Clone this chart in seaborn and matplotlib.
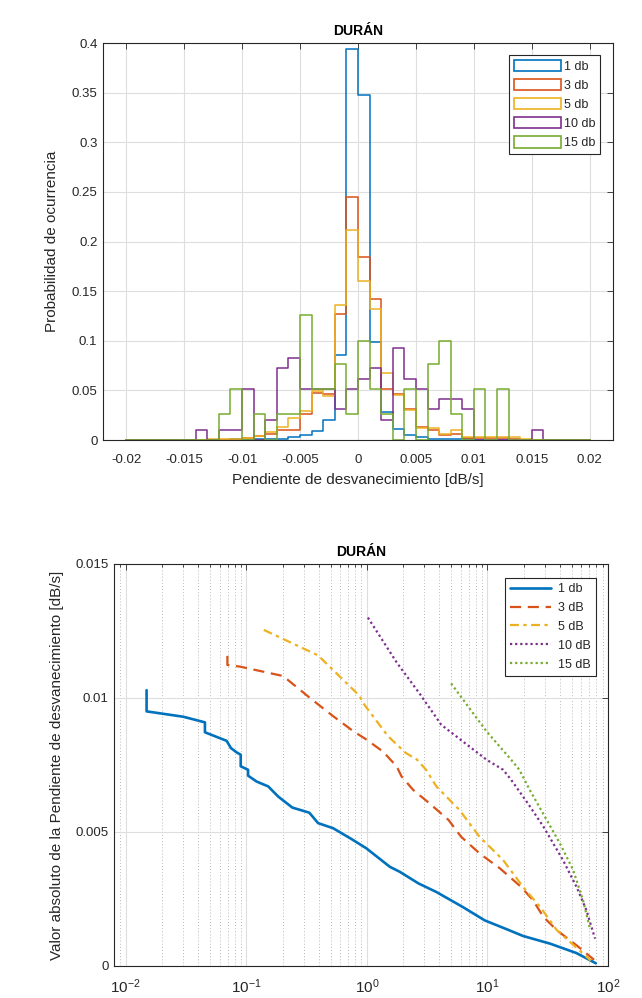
import numpy as np
import pandas as pd
import matplotlib
matplotlib.use('Agg')
import matplotlib.pyplot as plt
import seaborn as sns
from matplotlib.patches import Patch

# ---------------- data: histogram of fading slopes (probability per bin) ----------------
bin_edges = np.linspace(-0.02, 0.02, 41)
bin_centers = (bin_edges[:-1] + bin_edges[1:]) / 2

hist_labels = ['1 db', '3 db', '5 db', '10 db', '15 db']

p_1db = [0, 0, 0, 0, 0, 0, 0, 0, 0, 0.001,
         0, 0.001, 0.001, 0.001, 0.003, 0.005, 0.009, 0.020, 0.086, 0.394,
         0.348, 0.099, 0.028, 0.011, 0.005, 0.003, 0.001, 0.001, 0.001, 0.001,
         0, 0, 0, 0, 0, 0, 0, 0, 0, 0]
p_3db = [0, 0, 0, 0, 0, 0, 0, 0, 0, 0,
         0.002, 0.004, 0.006, 0.010, 0.010, 0.026, 0.047, 0.046, 0.127, 0.245,
         0.184, 0.142, 0.051, 0.046, 0.031, 0.013, 0.010, 0.005, 0.006, 0.002,
         0.002, 0.002, 0.002, 0.001, 0, 0, 0, 0, 0, 0]
p_5db = [0, 0, 0, 0, 0, 0, 0, 0.001, 0.001, 0.001,
         0.002, 0.004, 0.008, 0.013, 0.022, 0.029, 0.049, 0.044, 0.136, 0.212,
         0.160, 0.132, 0.068, 0.045, 0.030, 0.012, 0.012, 0.006, 0.010, 0.003,
         0.003, 0.003, 0.003, 0.003, 0.001, 0, 0, 0, 0, 0]
p_10db = [0, 0, 0, 0, 0, 0, 0.0103, 0, 0.0103, 0.0103,
          0.0515, 0, 0.0206, 0.0722, 0.0825, 0.0515, 0.0515, 0.0515, 0.0309, 0.0515,
          0.0619, 0.0722, 0.0206, 0.0928, 0.0619, 0.0515, 0.0309, 0.0412, 0.0412, 0.0309,
          0, 0, 0, 0, 0, 0.0103, 0, 0, 0, 0]
p_15db = [0, 0, 0, 0, 0, 0, 0, 0, 0.026, 0.051,
          0, 0.026, 0, 0.026, 0.026, 0.126, 0.051, 0.051, 0.077, 0.026,
          0.100, 0.051, 0.026, 0, 0.051, 0, 0.077, 0.100, 0.026, 0,
          0.051, 0, 0.051, 0, 0, 0, 0, 0, 0, 0]
hist_values = [p_1db, p_3db, p_5db, p_10db, p_15db]

hist_xticks = [-0.02, -0.015, -0.01, -0.005, 0, 0.005, 0.01, 0.015, 0.02]
hist_xticklabels = ['-0.02', '-0.015', '-0.01', '-0.005', '0', '0.005', '0.01', '0.015', '0.02']
hist_yticks = [0, 0.05, 0.1, 0.15, 0.2, 0.25, 0.3, 0.35, 0.4]
hist_yticklabels = ['0', '0.05', '0.1', '0.15', '0.2', '0.25', '0.3', '0.35', '0.4']

# ---------------- data: |slope| vs. time curves ----------------
curve_labels = ['1 db', '3 dB', '5 dB', '10 dB', '15 dB']

x_1db = [0.0149, 0.0149, 0.030, 0.0454, 0.0454, 0.0687, 0.0746, 0.0832, 0.0899, 0.0899,
         0.1035, 0.1035, 0.122, 0.152, 0.184, 0.241, 0.333, 0.394, 0.525, 0.749,
         0.99, 1.55, 1.88, 2.68, 3.77, 6.24, 9.5, 15.2, 19.7, 33.2, 54.8, 79.2]
y_1db = [0.01029, 0.0095, 0.0093, 0.00909, 0.00872, 0.0084, 0.00813, 0.00797, 0.00788, 0.00745,
         0.00732, 0.0071, 0.00688, 0.0067, 0.00632, 0.00591, 0.00572, 0.00533, 0.00514, 0.00473,
         0.00439, 0.0037, 0.00351, 0.00308, 0.00276, 0.0022, 0.0017, 0.00133, 0.00112, 0.00083, 0.00048, 0.0001]

x_3db = [0.0697, 0.0697, 0.0886, 0.2018, 0.3375, 0.5254, 0.7716, 0.99, 1.36, 1.765, 1.94,
         2.42, 3.3, 4.75, 6.05, 8.6, 12.7, 19.0, 23.9, 29.1, 37.7, 54.8, 76.6]
y_3db = [0.01157, 0.01123, 0.01117, 0.01082, 0.0100, 0.00932, 0.00876, 0.00845, 0.0080, 0.00745, 0.00707,
         0.00657, 0.00607, 0.00545, 0.00482, 0.0042, 0.00364, 0.00295, 0.00245, 0.00183, 0.00133, 0.00077, 0.00023]

x_5db = [0.1397, 0.3936, 0.8735, 0.927, 1.5, 2.1, 2.6, 3.1, 3.77, 5.86,
         8.6, 13.5, 19.7, 27.4, 37.7, 62.1, 72.0]
y_5db = [0.01254, 0.01159, 0.01007, 0.00982, 0.00857, 0.00795, 0.0077, 0.00732, 0.0067, 0.00582,
         0.00482, 0.00395, 0.00295, 0.0022, 0.00133, 0.00046, 0.0002]

x_10db = [1.02, 1.77, 2.77, 4.14, 6.24, 9.8, 13.5, 15.7, 21.6, 29.1, 42.3, 54.8, 66.2, 78.0]
y_10db = [0.013, 0.01132, 0.01013, 0.009, 0.00838, 0.0077, 0.00732, 0.00695, 0.00607, 0.0052,
          0.00395, 0.00295, 0.00208, 0.00102]

x_15db = [5.0, 9.8, 15.7, 18.4, 22.4, 31.0, 39.8, 51.4, 62.0, 70.3]
y_15db = [0.01054, 0.00876, 0.0077, 0.00732, 0.00657, 0.00545, 0.00458, 0.00358, 0.00245, 0.00145]

curves_x = [x_1db, x_3db, x_5db, x_10db, x_15db]
curves_y = [y_1db, y_3db, y_5db, y_10db, y_15db]

curve_yticks = [0, 0.005, 0.01, 0.015]
curve_yticklabels = ['0', '0.005', '0.01', '0.015']

# ---------------- style ----------------
sns.set_style('white')
plt.rcParams['font.family'] = ['Liberation Sans', 'DejaVu Sans']
plt.rcParams['mathtext.fontset'] = 'custom'
plt.rcParams['mathtext.rm'] = 'Liberation Sans'

matlab_colors = ['#0072BD', '#D95319', '#EDB120', '#7E2F8E', '#77AC30']
axis_color = '#262626'
line_styles = ['-', (0, (5, 3)), (0, (4, 2, 1.5, 2)), (0, (1, 1.3)), (0, (1, 1.3))]
line_widths = [1.9, 1.6, 1.6, 1.6, 1.6]

fig = plt.figure(figsize=(6.42, 9.98), dpi=100)


def matlab_axes(ax, xpad):
    for s in ax.spines.values():
        s.set_color(axis_color)
        s.set_linewidth(0.8)
    ax.tick_params(which='both', direction='in', top=True, right=True,
                   colors=axis_color, labelsize=9.5, width=0.6)
    ax.tick_params(which='major', length=4)
    ax.tick_params(which='minor', length=2)
    ax.tick_params(axis='x', which='both', pad=xpad)
    ax.tick_params(axis='y', which='both', pad=4)
    ax.set_axisbelow(True)


# ---------------- top: histogram ----------------
ax1 = fig.add_axes([0.1604, 0.5591, 0.7944, 0.3978])
for vals, col in zip(hist_values, matlab_colors):
    df_h = pd.DataFrame({'slope': bin_centers, 'prob': vals})
    sns.histplot(data=df_h, x='slope', weights='prob', binwidth=0.001,
                 binrange=(-0.02, 0.02), element='step', fill=False,
                 color=col, linewidth=1.1, ax=ax1)
ax1.set_xlim(-0.022, 0.022)
ax1.set_ylim(0, 0.4)
ax1.set_xticks(hist_xticks)
ax1.set_xticklabels(hist_xticklabels)
ax1.set_yticks(hist_yticks)
ax1.set_yticklabels(hist_yticklabels)
ax1.grid(True, which='major', color='#dedede', linewidth=0.8)
matlab_axes(ax1, xpad=10)
ax1.set_title('DURÁN', fontsize=10, fontweight='bold', color='black', pad=6)
ax1.set_xlabel('Pendiente de desvanecimiento [dB/s]', fontsize=11, color=axis_color, labelpad=5)
ax1.set_ylabel('Probabilidad de ocurrencia', fontsize=11, color=axis_color, labelpad=9)
handles = [Patch(facecolor='white', edgecolor=c, linewidth=1.2) for c in matlab_colors]
leg1 = ax1.legend(handles, hist_labels, loc='upper right', bbox_to_anchor=(0.975, 0.97),
                  borderaxespad=0, fontsize=9, frameon=True, fancybox=False,
                  edgecolor=axis_color, framealpha=1, handlelength=3.8, handleheight=1.0,
                  handletextpad=0.2, labelspacing=0.5, borderpad=0.4)
leg1.get_frame().set_linewidth(0.8)

# ---------------- bottom: |slope| vs. time ----------------
ax2 = fig.add_axes([0.1776, 0.0321, 0.7695, 0.4028])
for xs, ys, col, ls, lw, lab in zip(curves_x, curves_y, matlab_colors, line_styles,
                                    line_widths, curve_labels):
    sns.lineplot(x=xs, y=ys, estimator=None, sort=False, color=col, linestyle=ls,
                 linewidth=lw, label=lab, ax=ax2)
ax2.set_xscale('log')
ax2.set_xlim(0.008, 100)
ax2.set_ylim(0, 0.015)
ax2.set_yticks(curve_yticks)
ax2.set_yticklabels(curve_yticklabels)
ax2.grid(True, which='major', axis='both', color='#dedede', linewidth=0.8)
ax2.grid(True, which='minor', axis='x', color='#b8b8b8', linestyle=(0, (1, 2.2)), linewidth=0.7)
matlab_axes(ax2, xpad=8)
ax2.tick_params(axis='x', which='major', labelsize=11)
ax2.set_title('DURÁN', fontsize=10, fontweight='bold', color='black', pad=6)
ax2.set_ylabel('Valor absoluto de la Pendiente de desvanecimiento [dB/s]', fontsize=11,
               color=axis_color, labelpad=8)
ax2.set_xlabel('')
leg2 = ax2.legend(loc='upper right', bbox_to_anchor=(0.976, 0.965), borderaxespad=0,
                  fontsize=9, frameon=True, fancybox=False, edgecolor=axis_color,
                  framealpha=1, handlelength=3.3, handletextpad=0.55, labelspacing=0.55,
                  borderpad=0.4)
leg2.get_frame().set_linewidth(0.8)

fig.savefig('out.png', dpi=100)
